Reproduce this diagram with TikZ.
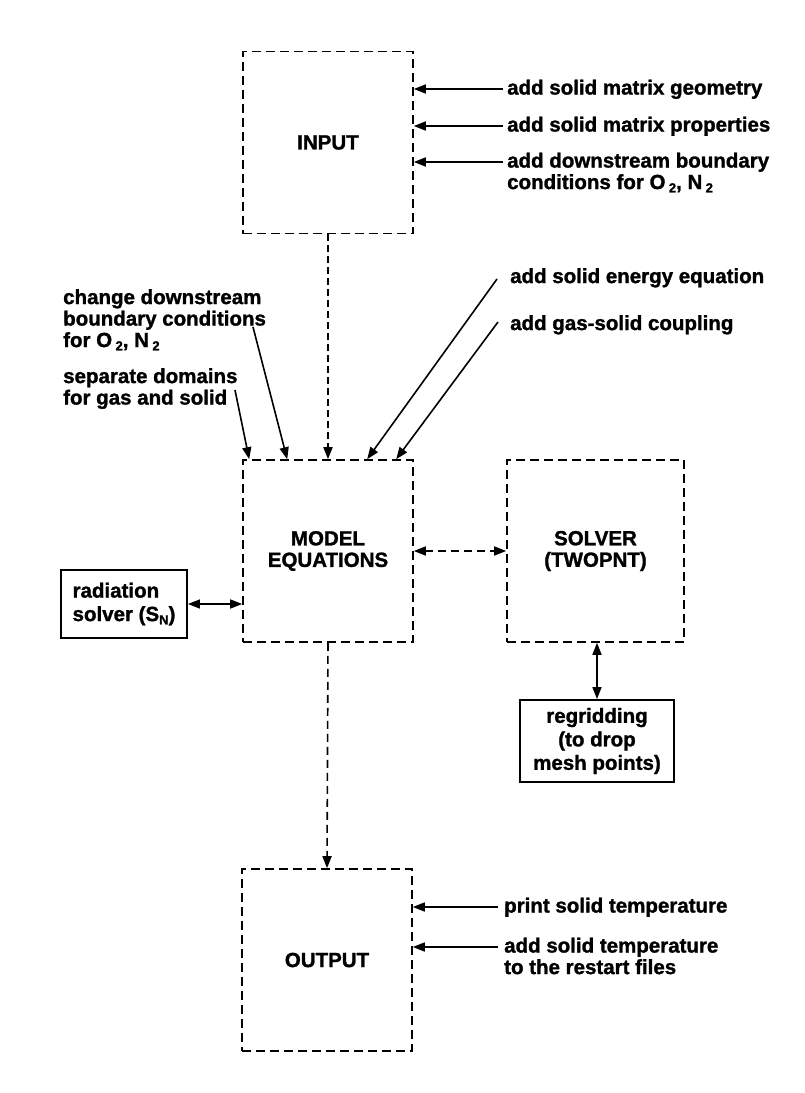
\documentclass[tikz,border=0pt]{standalone}
\usepackage{fontspec}
\setmainfont{Liberation Sans}[BoldFeatures={FakeBold=1.3}]
\usetikzlibrary{arrows.meta}
\newcommand{\lsub}[1]{\raisebox{-0.3ex}{\fontsize{13}{13}\selectfont #1}}
\begin{document}
\begin{tikzpicture}[x=1pt,y=-1pt,
  font=\fontsize{20.5}{21.5}\selectfont\bfseries,
  dbox/.style={draw, dash pattern=on 9pt off 5pt, line width=1.6pt, minimum width=170pt, minimum height=182pt, inner sep=0pt, align=center},
  sbox/.style={draw, line width=1.9pt, inner sep=0pt, font=\fontsize{20.5}{23.5}\selectfont\bfseries},
  lbl/.style={anchor=north west, inner sep=0pt, align=left},
  arr/.style={line width=1.6pt, -{Triangle[length=12pt,width=9pt]}},
  darr/.style={line width=1.6pt, {Triangle[length=12pt,width=9pt]}-{Triangle[length=12pt,width=9pt]}},
  dsh/.style={dash pattern=on 7pt off 4pt}
]
\fill[white] (0,0) rectangle (805,1093);
\useasboundingbox (0,0) rectangle (805,1093);

% main boxes
\node[dbox] (input) at (328,142.5) {INPUT};
\node[dbox] (model) at (328,551) {MODEL\\EQUATIONS};
\node[dbox, minimum width=177pt] (solver) at (595.5,551) {SOLVER\\(TWOPNT)};
\node[dbox] (output) at (327,960) {OUTPUT};

% solid boxes
\node[sbox, minimum width=126pt, minimum height=68pt, align=left] (rad) at (124,604) {radiation\\solver (S\lsub{N})};
\node[sbox, minimum width=154pt, minimum height=82pt, align=center] (regrid) at (597,741) {regridding\\(to drop\\mesh points)};

% input labels
\node[lbl] (g1) at (507,79.5) {add solid matrix geometry};
\node[lbl] (g2) at (507,116.5) {add solid matrix properties};
\node[lbl] (g3) at (507,152.5) {add downstream boundary\\conditions for O\,\lsub{2}, N\,\lsub{2}};
\coordinate (t1) at (503,89);
\coordinate (t2) at (503,126);
\coordinate (t3) at (503,162);
\draw[arr] (t1) -- (t1 -| input.east);
\draw[arr] (t2) -- (t2 -| input.east);
\draw[arr] (t3) -- (t3 -| input.east);

% model labels
\node[lbl] (chg) at (63,289) {change downstream\\boundary conditions\\for O\,\lsub{2}, N\,\lsub{2}};
\node[lbl] (sep) at (63,368) {separate domains\\for gas and solid};
\node[lbl] (energy) at (510,268) {add solid energy equation};
\node[lbl] (coup) at (510,315) {add gas-solid coupling};
\coordinate (sepT) at (235,390);
\coordinate (chgT) at (253,327);
\coordinate (enT) at (497,279);
\coordinate (coT) at (498,322);
\draw[arr] (sepT) -- ([xshift=7pt]model.north west);
\draw[arr] (chgT) -- ([xshift=45pt]model.north west);
\draw[arr] (enT) -- ([xshift=125pt]model.north west);
\draw[arr] (coT) -- ([xshift=154pt]model.north west);

% flow connectors
\draw[arr, dsh] (input.south) -- (model.north);
\draw[darr, dash pattern=on 8pt off 5pt] (model.east) -- (solver.west);
\draw[darr] (rad.east) -- (rad.east -| model.west);
\draw[darr] (solver.south -| regrid.north) -- (regrid.north);
\draw[arr, dash pattern=on 8pt off 5pt] (model.south) -- (output.north);

% output labels
\node[lbl] (p1) at (504,897.5) {print solid temperature};
\node[lbl] (p2) at (504,937.5) {add solid temperature\\to the restart files};
\coordinate (o1) at (498,907);
\coordinate (o2) at (498,947);
\draw[arr] (o1) -- (o1 -| output.east);
\draw[arr] (o2) -- (o2 -| output.east);
\end{tikzpicture}
\end{document}
